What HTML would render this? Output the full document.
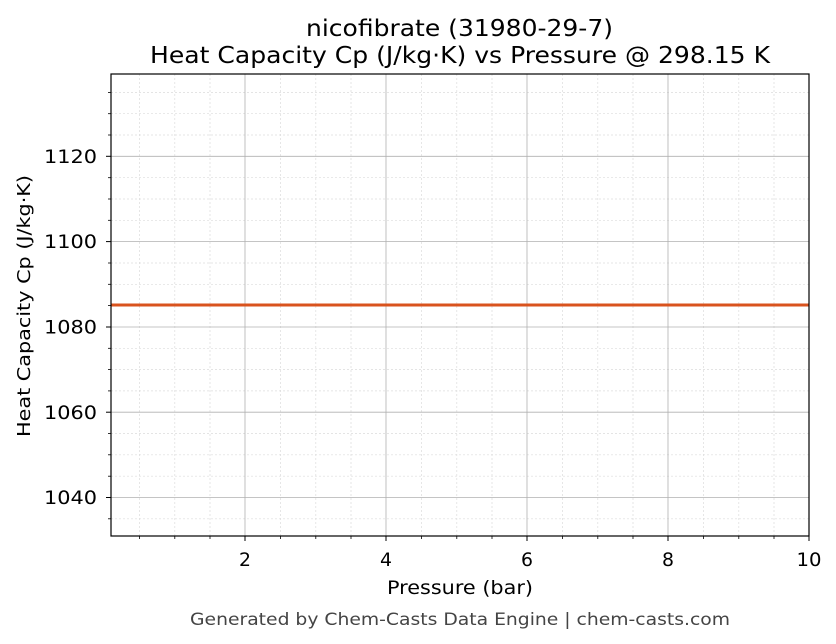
<!DOCTYPE html>
<html><head><meta charset="utf-8"><style>body{margin:0;background:#fff}svg{display:block}</style></head>
<body>
<svg width="836" height="644" viewBox="0 0 836 644" xmlns="http://www.w3.org/2000/svg" font-family="DejaVu Sans, Liberation Sans, sans-serif">
<rect width="836" height="644" fill="#fff"/>
<g stroke="#dcdcdc" stroke-width="0.7" stroke-dasharray="2,2">
<line x1="139.6" y1="74" x2="139.6" y2="536"/><line x1="174.8" y1="74" x2="174.8" y2="536"/><line x1="210" y1="74" x2="210" y2="536"/>
<line x1="280.5" y1="74" x2="280.5" y2="536"/><line x1="315.8" y1="74" x2="315.8" y2="536"/><line x1="351" y1="74" x2="351" y2="536"/>
<line x1="421.5" y1="74" x2="421.5" y2="536"/><line x1="456.8" y1="74" x2="456.8" y2="536"/><line x1="492" y1="74" x2="492" y2="536"/>
<line x1="562.5" y1="74" x2="562.5" y2="536"/><line x1="597.8" y1="74" x2="597.8" y2="536"/><line x1="633" y1="74" x2="633" y2="536"/>
<line x1="703.5" y1="74" x2="703.5" y2="536"/><line x1="738.8" y1="74" x2="738.8" y2="536"/><line x1="774" y1="74" x2="774" y2="536"/>
<line x1="111" y1="518.8" x2="809" y2="518.8"/><line x1="111" y1="476.2" x2="809" y2="476.2"/><line x1="111" y1="454.8" x2="809" y2="454.8"/><line x1="111" y1="433.5" x2="809" y2="433.5"/>
<line x1="111" y1="390.9" x2="809" y2="390.9"/><line x1="111" y1="369.6" x2="809" y2="369.6"/><line x1="111" y1="348.3" x2="809" y2="348.3"/>
<line x1="111" y1="305.6" x2="809" y2="305.6"/><line x1="111" y1="284.3" x2="809" y2="284.3"/><line x1="111" y1="263" x2="809" y2="263"/>
<line x1="111" y1="220.3" x2="809" y2="220.3"/><line x1="111" y1="199" x2="809" y2="199"/><line x1="111" y1="177.7" x2="809" y2="177.7"/>
<line x1="111" y1="135" x2="809" y2="135"/><line x1="111" y1="113.7" x2="809" y2="113.7"/><line x1="111" y1="92.4" x2="809" y2="92.4"/>
</g>
<g stroke="#b0b0b0" stroke-width="0.8">
<line x1="245" y1="74" x2="245" y2="536"/><line x1="386" y1="74" x2="386" y2="536"/><line x1="527" y1="74" x2="527" y2="536"/><line x1="668" y1="74" x2="668" y2="536"/>
<line x1="111" y1="497.5" x2="809" y2="497.5"/><line x1="111" y1="412.2" x2="809" y2="412.2"/><line x1="111" y1="327" x2="809" y2="327"/><line x1="111" y1="241.6" x2="809" y2="241.6"/><line x1="111" y1="156.3" x2="809" y2="156.3"/>
</g>
<line x1="111" y1="305" x2="809" y2="305" stroke="#d9531e" stroke-width="3"/>
<rect x="111" y="74" width="698" height="462" fill="none" stroke="#000" stroke-width="1.2"/>
<g stroke="#000" stroke-width="1">
<line x1="245" y1="536" x2="245" y2="541"/><line x1="386" y1="536" x2="386" y2="541"/><line x1="527" y1="536" x2="527" y2="541"/><line x1="668" y1="536" x2="668" y2="541"/><line x1="809" y1="536" x2="809" y2="541"/>
<line x1="106" y1="497.5" x2="111" y2="497.5"/><line x1="106" y1="412.2" x2="111" y2="412.2"/><line x1="106" y1="327" x2="111" y2="327"/><line x1="106" y1="241.6" x2="111" y2="241.6"/><line x1="106" y1="156.3" x2="111" y2="156.3"/>
</g>
<g stroke="#000" stroke-width="0.8">
<line x1="139.6" y1="536" x2="139.6" y2="539"/><line x1="174.8" y1="536" x2="174.8" y2="539"/><line x1="210" y1="536" x2="210" y2="539"/>
<line x1="280.5" y1="536" x2="280.5" y2="539"/><line x1="315.8" y1="536" x2="315.8" y2="539"/><line x1="351" y1="536" x2="351" y2="539"/>
<line x1="421.5" y1="536" x2="421.5" y2="539"/><line x1="456.8" y1="536" x2="456.8" y2="539"/><line x1="492" y1="536" x2="492" y2="539"/>
<line x1="562.5" y1="536" x2="562.5" y2="539"/><line x1="597.8" y1="536" x2="597.8" y2="539"/><line x1="633" y1="536" x2="633" y2="539"/>
<line x1="703.5" y1="536" x2="703.5" y2="539"/><line x1="738.8" y1="536" x2="738.8" y2="539"/><line x1="774" y1="536" x2="774" y2="539"/>
<line x1="108" y1="518.8" x2="111" y2="518.8"/><line x1="108" y1="476.2" x2="111" y2="476.2"/><line x1="108" y1="454.8" x2="111" y2="454.8"/><line x1="108" y1="433.5" x2="111" y2="433.5"/>
<line x1="108" y1="390.9" x2="111" y2="390.9"/><line x1="108" y1="369.6" x2="111" y2="369.6"/><line x1="108" y1="348.3" x2="111" y2="348.3"/>
<line x1="108" y1="305.6" x2="111" y2="305.6"/><line x1="108" y1="284.3" x2="111" y2="284.3"/><line x1="108" y1="263" x2="111" y2="263"/>
<line x1="108" y1="220.3" x2="111" y2="220.3"/><line x1="108" y1="199" x2="111" y2="199"/><line x1="108" y1="177.7" x2="111" y2="177.7"/>
<line x1="108" y1="135" x2="111" y2="135"/><line x1="108" y1="113.7" x2="111" y2="113.7"/><line x1="108" y1="92.4" x2="111" y2="92.4"/>
</g>
<g font-size="19" fill="#000" text-anchor="middle">
<text x="245" y="566" textLength="12" lengthAdjust="spacingAndGlyphs">2</text><text x="386" y="566" textLength="12" lengthAdjust="spacingAndGlyphs">4</text><text x="527" y="566" textLength="12" lengthAdjust="spacingAndGlyphs">6</text><text x="668" y="566" textLength="12" lengthAdjust="spacingAndGlyphs">8</text><text x="809" y="566" textLength="25" lengthAdjust="spacingAndGlyphs">10</text>
</g>
<g font-size="19" fill="#000" text-anchor="end">
<text x="97" y="504" textLength="53" lengthAdjust="spacingAndGlyphs">1040</text><text x="97" y="419" textLength="53" lengthAdjust="spacingAndGlyphs">1060</text><text x="97" y="333.5" textLength="53" lengthAdjust="spacingAndGlyphs">1080</text><text x="97" y="248" textLength="53" lengthAdjust="spacingAndGlyphs">1100</text><text x="97" y="163" textLength="53" lengthAdjust="spacingAndGlyphs">1120</text>
</g>
<text x="387" y="594" font-size="19" textLength="146" lengthAdjust="spacingAndGlyphs">Pressure (bar)</text>
<text transform="translate(30,437) rotate(-90)" font-size="18" textLength="262" lengthAdjust="spacingAndGlyphs">Heat Capacity Cp (J/kg·K)</text>
<text x="306" y="36" font-size="23" textLength="307" lengthAdjust="spacingAndGlyphs">nicofibrate (31980-29-7)</text>
<text x="150" y="63" font-size="23" textLength="620" lengthAdjust="spacingAndGlyphs">Heat Capacity Cp (J/kg·K) vs Pressure @ 298.15 K</text>
<text x="190" y="625" font-size="17" fill="#444" textLength="540" lengthAdjust="spacingAndGlyphs">Generated by Chem-Casts Data Engine | chem-casts.com</text>
</svg>
</body></html>
